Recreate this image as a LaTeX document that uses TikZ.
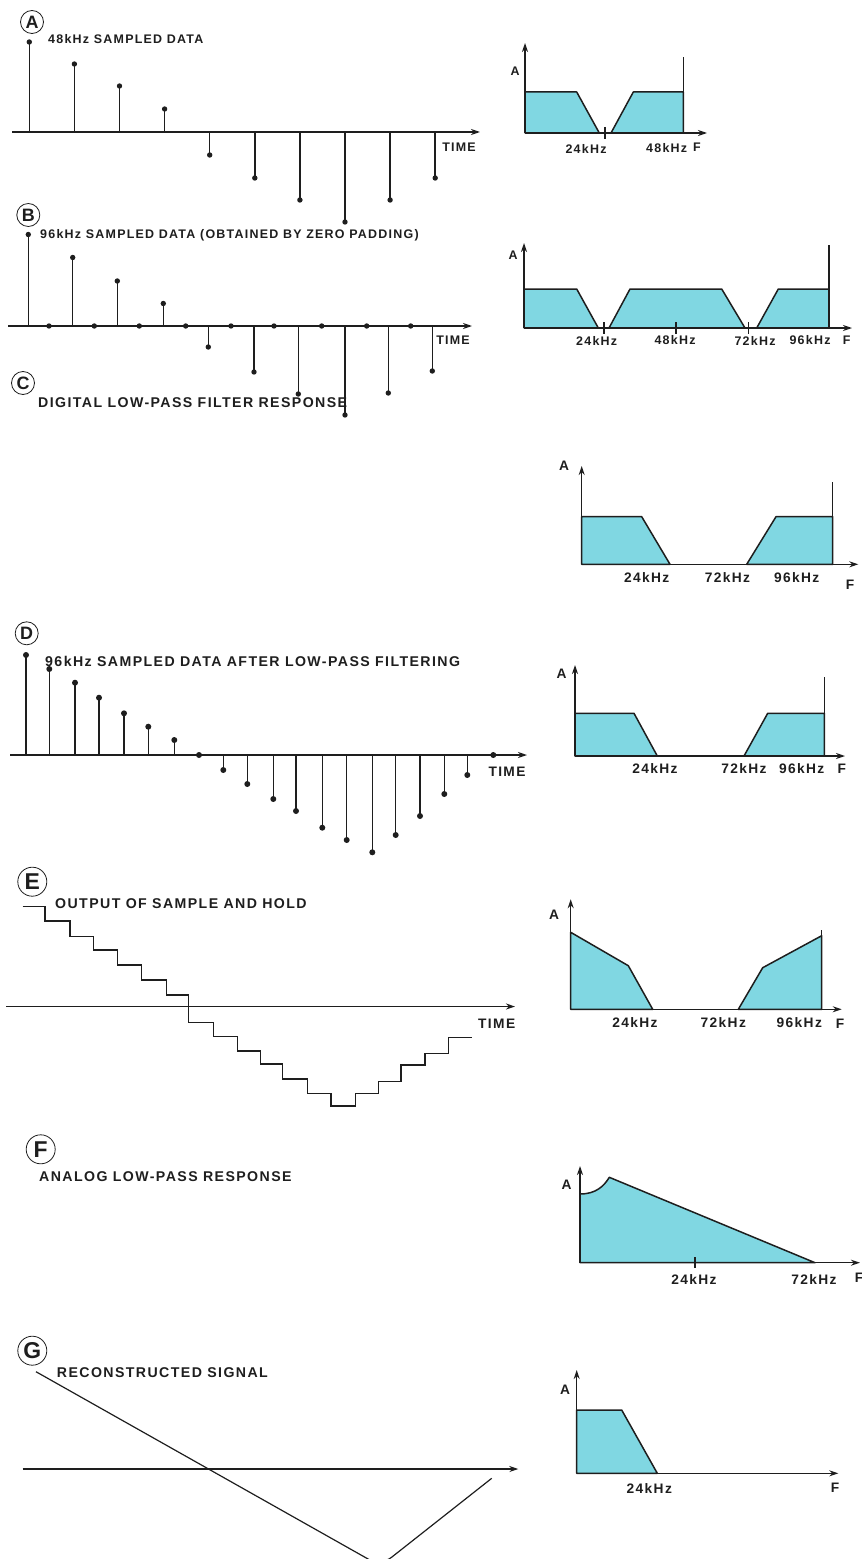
\documentclass[tikz,border=0pt]{standalone}
\usepackage{fontspec}
\setmainfont{Liberation Sans}
\newfontfamily\capsfont[LetterSpace=10]{Liberation Sans}
\usetikzlibrary{arrows.meta}
\definecolor{ink}{HTML}{1E1E1E}
\definecolor{specfill}{HTML}{80D7E2}

\begin{document}
\begin{tikzpicture}[x=1bp, y=-1bp,
    heading/.style={font=\capsfont\bfseries\fontsize{12.5}{14}\selectfont, inner sep=0pt, text=ink, anchor=base west},
    bigheading/.style={heading, font=\capsfont\bfseries\fontsize{14.2}{16}\selectfont},
    lbl/.style={font=\capsfont\bfseries\fontsize{12.5}{14}\selectfont, inner sep=0pt, text=ink},
    biglbl/.style={lbl, font=\capsfont\bfseries\fontsize{13.8}{16}\selectfont},
    tag/.style={circle, draw=ink, line width=0.8bp, minimum size=23bp, inner sep=0pt, font=\bfseries\fontsize{18}{18}\selectfont, text=ink},
    bigtag/.style={tag, minimum size=29bp, font=\bfseries\fontsize{23}{23}\selectfont},
    arrowaxis/.style={draw=ink, line width=1.4bp, -{Stealth[length=9bp, width=6bp]}},
    stem/.style={draw=ink, line width=1.5bp},
    band/.style={fill=specfill, draw=ink, line width=1.5bp, line join=round},
    tickmark/.style={draw=ink, line width=1.4bp}
]
    \useasboundingbox (0,0) rectangle (861,1559);

    % A
    \node[tag] (tagA) at (32,22) {A};
    \node[heading] (titleA) at (48,43.5) {48kHz SAMPLED DATA};
    \draw[arrowaxis] (12,132) -- (480,132);
    \node[lbl] (timeA) at (459,147) {TIME};
    \foreach \x/\y in {29.3/42, 74.4/64, 119.5/86, 164.6/109, 209.7/155, 254.8/178, 299.9/200, 345/222, 390.1/200, 435.2/178}
        {\draw[stem] (\x,132) -- (\x,\y); \fill[ink] (\x,\y) circle (2.7bp);}

    \draw[band] (525,133) -- (525,92) -- (576.7,92) -- (599.3,133) -- cycle;
    \draw[band] (611,133) -- (633.3,92) -- (683.3,92) -- (683.3,133) -- cycle;
    \draw[stem] (683.3,133) -- (683.3,56.7);
    \draw[arrowaxis] (525,133) -- (525,43);
    \draw[arrowaxis] (525,133) -- (707,133);
    \draw[tickmark] (605,127) -- (605,139);
    \node[lbl] (ampA) at (515,71) {A};
    \node[lbl] (f24A) at (586,148.5) {24kHz};
    \node[lbl] (f48A) at (666.7,148.5) {48kHz};
    \node[lbl] (fA) at (697,147) {F};

    % B
    \node[tag] (tagB) at (28.3,215) {B};
    \node[heading] (titleB) at (40,238) {96kHz SAMPLED DATA (OBTAINED BY ZERO PADDING)};
    \draw[arrowaxis] (8,326) -- (472,326);
    \node[lbl] (timeB) at (453,340) {TIME};
    \foreach \x/\y in {28.3/234.5, 72.7/257.5, 117.3/281, 163.3/303.5, 208.3/347, 254/372, 298.3/394, 345/415, 388.3/393, 432.3/371}
        {\draw[stem] (\x,326) -- (\x,\y); \fill[ink] (\x,\y) circle (2.7bp);}
    \foreach \x in {49, 94.3, 139.3, 185.7, 231, 274, 321.7, 366.7, 410.7}
        {\fill[ink] (\x,326) circle (2.7bp);}

    \draw[band] (524,328) -- (524,289) -- (576.7,289) -- (598.3,328) -- cycle;
    \draw[band] (609,328) -- (630,289) -- (721.7,289) -- (745,328) -- cycle;
    \draw[band] (756.7,328) -- (778.3,289) -- (829,289) -- (829,328) -- cycle;
    \draw[stem] (829,328) -- (829,245);
    \draw[arrowaxis] (524,328) -- (524,243);
    \draw[arrowaxis] (524,328) -- (852,328);
    \foreach \x in {604, 676, 748.3} {\draw[tickmark] (\x,322) -- (\x,334);}
    \node[lbl] (ampB) at (513,255) {A};
    \node[lbl] (f24B) at (596.7,340.5) {24kHz};
    \node[lbl] (f48B) at (675,340.5) {48kHz};
    \node[lbl] (f72B) at (755,340.5) {72kHz};
    \node[lbl] (f96B) at (810,340.5) {96kHz};
    \node[lbl] (fB) at (846.7,340) {F};

    % C
    \node[tag] (tagC) at (23,383) {C};
    \node[bigheading] (titleC) at (38,407) {DIGITAL LOW-PASS FILTER RESPONSE};
    \draw[band] (581.7,564.3) -- (581.7,516.7) -- (641.7,516.7) -- (670,564.3) -- cycle;
    \draw[band] (746.7,564.3) -- (776,516.7) -- (832.7,516.7) -- (832.7,564.3) -- cycle;
    \draw[stem] (832.7,564.3) -- (832.7,481.7);
    \draw[arrowaxis] (581.7,564.3) -- (581.7,466);
    \draw[arrowaxis] (581.7,564.3) -- (858.3,564.3);
    \node[biglbl] (ampC) at (564,466) {A};
    \node[biglbl] (f24C) at (646.7,578) {24kHz};
    \node[biglbl] (f72C) at (727.5,578) {72kHz};
    \node[biglbl] (f96C) at (796.7,578) {96kHz};
    \node[biglbl] (fC) at (850,585) {F};

    % D
    \node[tag] (tagD) at (26.7,633.3) {D};
    \node[bigheading] (titleD) at (45,666.5) {96kHz SAMPLED DATA AFTER LOW-PASS FILTERING};
    \draw[arrowaxis] (10,755) -- (527,755);
    \node[biglbl] (timeD) at (507,772) {TIME};
    \foreach \x/\y in {26/655, 49.3/669, 75/682.7, 99/697.7, 124/713.3, 148.3/726.7, 174.3/740, 199/755,
        223.3/770, 247.3/784, 273.3/799, 296/811, 322.3/827.7, 346.7/840, 372.3/852.3, 395.7/835, 420/816, 444.3/794, 467.3/775, 493.3/755}
        {\draw[stem] (\x,755) -- (\x,\y); \fill[ink] (\x,\y) circle (3bp);}

    \draw[band] (575,756) -- (575,713.3) -- (634,713.3) -- (657.3,756) -- cycle;
    \draw[band] (744,756) -- (767.7,713.3) -- (824.3,713.3) -- (824.3,756) -- cycle;
    \draw[stem] (824.3,756) -- (824.3,676.7);
    \draw[arrowaxis] (575,756) -- (575,665);
    \draw[arrowaxis] (575,756) -- (845,756);
    \node[biglbl] (ampD) at (561.7,673.3) {A};
    \node[biglbl] (f24D) at (655,769) {24kHz};
    \node[biglbl] (f72D) at (744,769) {72kHz};
    \node[biglbl] (f96D) at (801.7,769) {96kHz};
    \node[biglbl] (fD) at (841.7,769) {F};

    % E
    \node[bigtag] (tagE) at (32.3,881.7) {E};
    \node[bigheading] (titleE) at (55,908.5) {OUTPUT OF SAMPLE AND HOLD};
    \draw[arrowaxis] (6,1006.5) -- (515,1006.5);
    \node[biglbl] (timeE) at (496.7,1023.3) {TIME};
    \draw[stem] (22.7,906.7) -| (45,921) -| (70,936.7) -| (93.3,950) -| (117.7,965) -| (141.7,980) -| (166.7,995)
        -| (188.3,1022.7) -| (213.3,1036.7) -| (237.3,1051) -| (260.7,1064) -| (282.7,1079) -| (307.3,1093.3)
        -| (331,1106) -| (355.7,1093.3) -| (378.3,1081.7) -| (401,1065) -| (425,1053.3) -| (448.3,1037.7) -- (471.7,1037.7);

    \draw[band] (570.7,1009.3) -- (570.7,932.3) -- (628.3,965.7) -- (652.7,1009.3) -- cycle;
    \draw[band] (738.3,1009.3) -- (762.7,967.7) -- (821.7,935.7) -- (821.7,1009.3) -- cycle;
    \draw[stem] (821.7,1009.3) -- (821.7,930);
    \draw[arrowaxis] (570.7,1009.3) -- (570.7,899.3);
    \draw[arrowaxis] (570.7,1009.3) -- (841.7,1009.3);
    \node[biglbl] (ampE) at (554,914.3) {A};
    \node[biglbl] (f24E) at (635,1022.3) {24kHz};
    \node[biglbl] (f72E) at (723.3,1022.3) {72kHz};
    \node[biglbl] (f96E) at (799.3,1022.3) {96kHz};
    \node[biglbl] (fE) at (840,1024) {F};

    % F
    \node[bigtag] (tagF) at (40.7,1149.3) {F};
    \node[bigheading] (titleF) at (39,1181) {ANALOG LOW-PASS RESPONSE};
    \draw[band] (580,1262.7) -- (580,1194) .. controls (596,1194) and (604,1186) .. (609.3,1177.3) -- (815,1262.7) -- cycle;
    \draw[arrowaxis] (580,1262.7) -- (580,1166);
    \draw[arrowaxis] (580,1262.7) -- (860,1262.7);
    \draw[tickmark] (695,1257) -- (695,1268);
    \node[biglbl] (ampF) at (566.7,1184.3) {A};
    \node[biglbl] (f24F) at (694,1280) {24kHz};
    \node[biglbl] (f72F) at (814,1280) {72kHz};
    \node[biglbl] (fF) at (859,1278) {F};

    % G
    \node[bigtag] (tagG) at (32.3,1350.7) {G};
    \node[bigheading] (titleG) at (56.7,1377.5) {RECONSTRUCTED SIGNAL};
    \draw[arrowaxis] (22.7,1469) -- (518.3,1469);
    \draw[draw=ink, line width=1.2bp, rounded corners=14bp] (36,1371.7) -- (380.5,1566) -- (491.7,1478.3);

    \draw[band] (576.7,1473.3) -- (576.7,1410) -- (621.7,1410) -- (657.3,1473.3) -- cycle;
    \draw[arrowaxis] (576.7,1473.3) -- (576.7,1370);
    \draw[arrowaxis] (576.7,1473.3) -- (838.3,1473.3);
    \node[biglbl] (ampG) at (565,1390) {A};
    \node[biglbl] (f24G) at (649.3,1488.3) {24kHz};
    \node[biglbl] (fG) at (835,1488) {F};
\end{tikzpicture}
\end{document}
